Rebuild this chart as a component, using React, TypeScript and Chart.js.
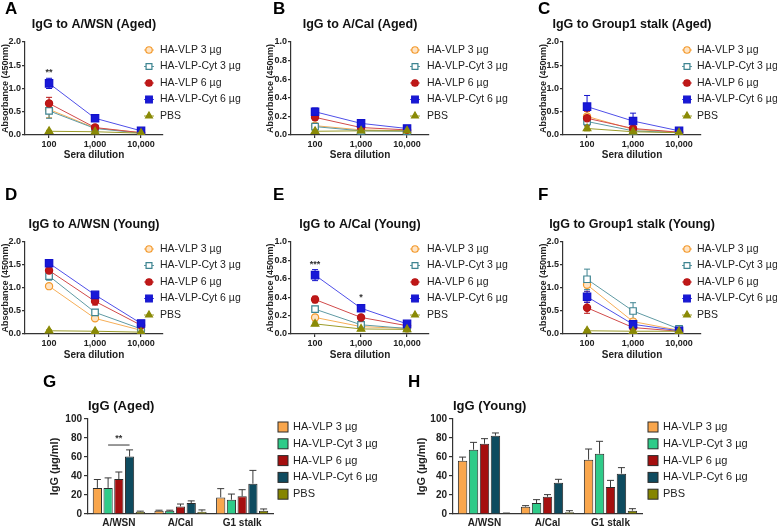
import React, { useEffect, useRef } from 'react';
import { Chart, registerables } from 'chart.js';

Chart.register(...registerables);

const FONT = '"Liberation Sans", Arial, Helvetica, sans-serif';

const seriesNames = ['HA-VLP 3 µg', 'HA-VLP-Cyt 3 µg', 'HA-VLP 6 µg', 'HA-VLP-Cyt 6 µg', 'PBS'];
const dilutions = [100, 1000, 10000];
const dilutionLabels = ['100', '1,000', '10,000'];

// A: IgG to A/WSN (Aged)
const wsnAgedMeans = [
  [0.55, 0.15, 0.05],
  [0.52, 0.14, 0.04],
  [0.68, 0.16, 0.05],
  [1.11, 0.36, 0.09],
  [0.08, 0.07, 0.04],
];
const wsnAgedErrors = [
  [0.18, 0.02, 0.01],
  [0.16, 0.02, 0.01],
  [0.13, 0.03, 0.01],
  [0.11, 0.04, 0.01],
  [0.02, 0.01, 0.01],
];
// B: IgG to A/Cal (Aged)
const calAgedMeans = [
  [0.1, 0.055, 0.045],
  [0.09, 0.045, 0.04],
  [0.19, 0.08, 0.055],
  [0.25, 0.125, 0.07],
  [0.04, 0.045, 0.045],
];
const calAgedErrors = [
  [0.02, 0.01, 0.01],
  [0.02, 0.01, 0.005],
  [0.03, 0.01, 0.01],
  [0.04, 0.02, 0.01],
  [0.01, 0.005, 0.005],
];
// C: IgG to Group1 stalk (Aged)
const stalkAgedMeans = [
  [0.4, 0.12, 0.06],
  [0.29, 0.09, 0.05],
  [0.36, 0.14, 0.06],
  [0.61, 0.3, 0.09],
  [0.14, 0.07, 0.05],
];
const stalkAgedErrors = [
  [0.12, 0.04, 0.01],
  [0.08, 0.03, 0.01],
  [0.15, 0.04, 0.01],
  [0.24, 0.17, 0.02],
  [0.05, 0.02, 0.01],
];
// D: IgG to A/WSN (Young)
const wsnYoungMeans = [
  [1.04, 0.34, 0.08],
  [1.26, 0.47, 0.11],
  [1.38, 0.71, 0.19],
  [1.54, 0.85, 0.23],
  [0.07, 0.06, 0.04],
];
const wsnYoungErrors = [
  [0.05, 0.04, 0.02],
  [0.09, 0.06, 0.02],
  [0.08, 0.08, 0.03],
  [0.04, 0.05, 0.02],
  [0.02, 0.01, 0.01],
];
// E: IgG to A/Cal (Young)
const calYoungMeans = [
  [0.18, 0.08, 0.06],
  [0.27, 0.1, 0.06],
  [0.375, 0.18, 0.09],
  [0.64, 0.28, 0.11],
  [0.11, 0.055, 0.05],
];
const calYoungErrors = [
  [0.03, 0.01, 0.01],
  [0.03, 0.01, 0.01],
  [0.035, 0.01, 0.01],
  [0.06, 0.02, 0.01],
  [0.02, 0.01, 0.005],
];
// F: IgG to Group1 stalk (Young)
const stalkYoungMeans = [
  [1.07, 0.27, 0.08],
  [1.19, 0.5, 0.11],
  [0.57, 0.14, 0.06],
  [0.81, 0.21, 0.07],
  [0.07, 0.06, 0.06],
];
const stalkYoungErrors = [
  [0.15, 0.05, 0.02],
  [0.22, 0.18, 0.03],
  [0.12, 0.03, 0.01],
  [0.12, 0.04, 0.02],
  [0.02, 0.01, 0.01],
];

// G / H: IgG (µg/ml)
const antigenCategories = ['A/WSN', 'A/Cal', 'G1 stalk'];
const igAgedMeans = [
  [27.5, 3.5, 17.5],
  [27.5, 3.5, 15],
  [36.8, 8, 18.6],
  [60.5, 11.5, 31.9],
  [2.5, 2.3, 3.5],
];
const igAgedErrors = [
  [8.8, 0.5, 9.2],
  [10.5, 0.5, 6],
  [7.4, 2.5, 7],
  [7, 2.3, 14],
  [0.5, 2, 1.8],
];
const igYoungMeans = [
  [56, 7.7, 57.2],
  [67.7, 11.6, 63.5],
  [74, 18.2, 28.4],
  [82.5, 33, 42.5],
  [0.7, 1.8, 3.5],
];
const igYoungErrors = [
  [3.9, 1.1, 11.2],
  [7.7, 3.5, 13],
  [5.3, 2.2, 7],
  [2.8, 3.5, 6.3],
  [0.3, 1.7, 2.1],
];

// styles
const lineColors = ['#F6AE57', '#5F9AA3', '#D14A4A', '#4F4FE8', '#9C9C2A'];
const markerEdge = ['#F39A2D', '#3E8491', '#B81414', '#1212CC', '#8A8A06'];
const markerFill = ['#FFE4C4', '#FFFFFF', '#C01818', '#1818D8', '#8A8A06'];
const markerShape = ['circle', 'rect', 'circle', 'rect', 'triangle'];
const markerSize = [3.6, 4.6, 3.6, 5.2, 4.4];
const barColors = ['#F9A64C', '#2FCB89', '#A50F0F', '#0E4B5F', '#858500'];
const AXIS = '#333';
const TEXT = '#222';

type Rect = { left: number; top: number; width: number; height: number };

type LinePanel = {
  letter: string;
  title: string;
  means: number[][];
  errors: number[][];
  yMax: number;
  yStep: number;
  rect: Rect;
  yAxisWidth: number;
  padRight: number;
  padTop: number;
  xAxisHeight: number;
  titleY: number;
  letterPos: [number, number];
  legend: { markerX: number; textX: number; y: number; step: number };
  sig?: { x: number; y: number; text: string }[];
};

const row1 = { top: 0, height: 161, xAxisHeight: 26, padTop: 42, titleY: 25, letterY: 9, legendY: 50 };
const row2 = { top: 175, height: 186, xAxisHeight: 27, padTop: 67, titleY: 50, letterY: 20, legendY: 74 };

function mkLine(
  letter: string, title: string, means: number[][], errors: number[][], yMax: number, yStep: number,
  col: number, row: typeof row1, sig?: { x: number; y: number; text: string }[]
): LinePanel {
  const cols = [
    { left: 0, width: 260, yAxisWidth: 25, padRight: 97, letterX: 5, markerX: 149, textX: 160 },
    { left: 265, width: 270, yAxisWidth: 26, padRight: 106, letterX: 8, markerX: 150, textX: 162 },
    { left: 538, width: 239, yAxisWidth: 25, padRight: 76, letterX: 0, markerX: 149, textX: 159 },
  ][col];
  return {
    letter, title, means, errors, yMax, yStep,
    rect: { left: cols.left, top: row.top, width: cols.width, height: row.height },
    yAxisWidth: cols.yAxisWidth,
    padRight: cols.padRight,
    padTop: row.padTop,
    xAxisHeight: row.xAxisHeight,
    titleY: row.titleY,
    letterPos: [cols.letterX, row.letterY],
    legend: { markerX: cols.markerX, textX: cols.textX, y: row.legendY, step: 16.5 },
    sig,
  };
}

const linePanels: LinePanel[] = [
  mkLine('A', 'IgG to A/WSN (Aged)', wsnAgedMeans, wsnAgedErrors, 2, 0.5, 0, row1, [{ x: 100, y: 1.34, text: '**' }]),
  mkLine('B', 'IgG to A/Cal (Aged)', calAgedMeans, calAgedErrors, 1, 0.2, 1, row1),
  mkLine('C', 'IgG to Group1 stalk (Aged)', stalkAgedMeans, stalkAgedErrors, 2, 0.5, 2, row1),
  mkLine('D', 'IgG to A/WSN (Young)', wsnYoungMeans, wsnYoungErrors, 2, 0.5, 0, row2),
  mkLine('E', 'IgG to A/Cal (Young)', calYoungMeans, calYoungErrors, 1, 0.2, 1, row2, [
    { x: 100, y: 0.76, text: '***' },
    { x: 1000, y: 0.4, text: '*' },
  ]),
  mkLine('F', 'IgG to Group1 stalk (Young)', stalkYoungMeans, stalkYoungErrors, 2, 0.5, 2, row2),
];

type BarPanel = {
  letter: string;
  title: string;
  means: number[][];
  errors: number[][];
  rect: Rect;
  padLeft: number;
  yAxisWidth: number;
  padRight: number;
  letterPos: [number, number];
  legend: { boxX: number; textX: number; y: number; step: number };
  bracket?: { cat: number; from: number; to: number; y: number; text: string };
};

const barPanels: BarPanel[] = [
  {
    letter: 'G', title: 'IgG (Aged)', means: igAgedMeans, errors: igAgedErrors,
    rect: { left: 40, top: 370, width: 348, height: 159 },
    padLeft: 8, yAxisWidth: 40, padRight: 115,
    letterPos: [3, 12],
    legend: { boxX: 243, textX: 253, y: 57, step: 16.8 },
    bracket: { cat: 0, from: 1, to: 3, y: 72.6, text: '**' },
  },
  {
    letter: 'H', title: 'IgG (Young)', means: igYoungMeans, errors: igYoungErrors,
    rect: { left: 400, top: 370, width: 377, height: 159 },
    padLeft: 15, yAxisWidth: 38, padRight: 135,
    letterPos: [8, 12],
    legend: { boxX: 253, textX: 263, y: 57, step: 16.8 },
  },
];

function drawMarker(ctx: CanvasRenderingContext2D, shape: string, x: number, y: number, r: number, fill: string, stroke: string, lw: number) {
  ctx.save();
  ctx.beginPath();
  if (shape === 'circle') {
    ctx.arc(x, y, r, 0, Math.PI * 2);
  } else if (shape === 'rect') {
    const s = r * Math.SQRT1_2;
    ctx.rect(x - s, y - s, 2 * s, 2 * s);
  } else {
    const a = (2 * Math.PI) / 3;
    ctx.moveTo(x, y - r);
    ctx.lineTo(x + Math.sin(a) * r, y - Math.cos(a) * r);
    ctx.lineTo(x + Math.sin(2 * a) * r, y - Math.cos(2 * a) * r);
    ctx.closePath();
  }
  ctx.fillStyle = fill;
  ctx.fill();
  ctx.lineWidth = lw;
  ctx.strokeStyle = stroke;
  ctx.stroke();
  ctx.restore();
}

function drawLetter(ctx: CanvasRenderingContext2D, letter: string, pos: [number, number]) {
  ctx.save();
  ctx.font = `bold 17px ${FONT}`;
  ctx.fillStyle = '#000';
  ctx.textAlign = 'left';
  ctx.textBaseline = 'middle';
  ctx.fillText(letter, pos[0], pos[1]);
  ctx.restore();
}

function drawTitle(ctx: CanvasRenderingContext2D, text: string, x: number, y: number, size: number, align: CanvasTextAlign) {
  ctx.save();
  ctx.font = `bold ${size}px ${FONT}`;
  ctx.fillStyle = '#111';
  ctx.textAlign = align;
  ctx.textBaseline = 'middle';
  ctx.fillText(text, x, y);
  ctx.restore();
}

function lineExtras(p: LinePanel) {
  return {
    id: 'lineExtras',
    beforeDatasetsDraw(chart: any) {
      const ctx: CanvasRenderingContext2D = chart.ctx;
      const xs = chart.scales.x;
      const ys = chart.scales.y;
      ctx.save();
      ctx.lineWidth = 1;
      p.means.forEach((row, i) => {
        ctx.strokeStyle = markerEdge[i];
        row.forEach((m, j) => {
          const e = p.errors[i][j];
          const x = xs.getPixelForValue(dilutions[j]);
          const y1 = ys.getPixelForValue(m + e);
          const y2 = ys.getPixelForValue(Math.max(0, m - e));
          ctx.beginPath();
          ctx.moveTo(x, y1);
          ctx.lineTo(x, y2);
          ctx.moveTo(x - 3, y1);
          ctx.lineTo(x + 3, y1);
          ctx.moveTo(x - 3, y2);
          ctx.lineTo(x + 3, y2);
          ctx.stroke();
        });
      });
      ctx.restore();
    },
    afterDraw(chart: any) {
      const ctx: CanvasRenderingContext2D = chart.ctx;
      const area = chart.chartArea;
      drawLetter(ctx, p.letter, p.letterPos);
      drawTitle(ctx, p.title, (area.left + area.right) / 2, p.titleY, 12.5, 'center');
      // legend
      ctx.save();
      ctx.font = `10.5px ${FONT}`;
      ctx.fillStyle = TEXT;
      ctx.textAlign = 'left';
      ctx.textBaseline = 'middle';
      seriesNames.forEach((name, i) => {
        const y = p.legend.y + i * p.legend.step;
        const mx = p.legend.markerX;
        ctx.strokeStyle = lineColors[i];
        ctx.lineWidth = 1;
        ctx.beginPath();
        ctx.moveTo(mx - 5, y);
        ctx.lineTo(mx + 5, y);
        ctx.stroke();
        drawMarker(ctx, markerShape[i], mx, y, markerSize[i] * 0.9, markerFill[i], markerEdge[i], 1.2);
        ctx.fillStyle = TEXT;
        ctx.fillText(name, p.legend.textX, y);
      });
      ctx.restore();
      // significance marks
      if (p.sig) {
        const xs = chart.scales.x;
        const ys = chart.scales.y;
        ctx.save();
        ctx.font = `bold 9px ${FONT}`;
        ctx.fillStyle = '#333';
        ctx.textAlign = 'center';
        ctx.textBaseline = 'middle';
        p.sig.forEach((s) => ctx.fillText(s.text, xs.getPixelForValue(s.x), ys.getPixelForValue(s.y)));
        ctx.restore();
      }
    },
  };
}

function lineConfig(p: LinePanel): any {
  const tickFont = { family: FONT, size: 9, weight: 'bold' as const };
  return {
    type: 'line',
    data: {
      datasets: seriesNames.map((name, i) => ({
        label: name,
        data: dilutions.map((d, j) => ({ x: d, y: p.means[i][j] })),
        borderColor: lineColors[i],
        borderWidth: 1,
        pointStyle: markerShape[i],
        pointRadius: markerSize[i],
        pointBorderColor: markerEdge[i],
        pointBackgroundColor: markerFill[i],
        pointBorderWidth: 1.2,
        fill: false,
        tension: 0,
        order: 4 - i,
      })),
    },
    options: {
      responsive: false,
      animation: false,
      events: [],
      layout: { padding: { left: 0, right: p.padRight, top: p.padTop, bottom: 0 } },
      plugins: {
        legend: { display: false },
        tooltip: { enabled: false },
        title: { display: false },
      },
      scales: {
        x: {
          type: 'logarithmic',
          min: 30,
          max: 30000,
          afterBuildTicks: (s: any) => {
            s.ticks = dilutions.map((v) => ({ value: v }));
          },
          afterFit: (s: any) => {
            s.height = p.xAxisHeight;
          },
          ticks: {
            callback: (v: any) => {
              const k = dilutions.indexOf(Number(v));
              return k >= 0 ? dilutionLabels[k] : '';
            },
            font: tickFont,
            color: TEXT,
            padding: 1,
            maxRotation: 0,
            autoSkip: false,
          },
          grid: { drawOnChartArea: false, drawTicks: true, tickLength: 3, color: AXIS, lineWidth: 1.2 },
          border: { color: AXIS, width: 1.2 },
          title: {
            display: true,
            text: 'Sera dilution',
            color: TEXT,
            font: { family: FONT, size: 10, weight: 'bold' },
            padding: 0,
          },
        },
        y: {
          type: 'linear',
          min: 0,
          max: p.yMax,
          afterFit: (s: any) => {
            s.width = p.yAxisWidth;
          },
          ticks: {
            stepSize: p.yStep,
            callback: (v: any) => Number(v).toFixed(1),
            font: tickFont,
            color: TEXT,
            padding: 1,
          },
          grid: { drawOnChartArea: false, drawTicks: true, tickLength: 3, color: AXIS, lineWidth: 1.2 },
          border: { color: AXIS, width: 1.2 },
          title: {
            display: true,
            text: 'Absorbance (450nm)',
            color: TEXT,
            font: { family: FONT, size: 9, weight: 'bold' },
            padding: 0,
          },
        },
      },
    },
    plugins: [lineExtras(p)],
  };
}

function barExtras(p: BarPanel) {
  return {
    id: 'barExtras',
    afterDatasetsDraw(chart: any) {
      const ctx: CanvasRenderingContext2D = chart.ctx;
      const ys = chart.scales.y;
      ctx.save();
      ctx.strokeStyle = '#3a3a3a';
      ctx.lineWidth = 1;
      p.means.forEach((row, i) => {
        const meta = chart.getDatasetMeta(i);
        row.forEach((m, j) => {
          const x = meta.data[j].x;
          const y0 = ys.getPixelForValue(m);
          const y1 = ys.getPixelForValue(m + p.errors[i][j]);
          ctx.beginPath();
          ctx.moveTo(x, y0);
          ctx.lineTo(x, y1);
          ctx.moveTo(x - 3.5, y1);
          ctx.lineTo(x + 3.5, y1);
          ctx.stroke();
        });
      });
      if (p.bracket) {
        const b = p.bracket;
        const x1 = chart.getDatasetMeta(b.from).data[b.cat].x;
        const x2 = chart.getDatasetMeta(b.to).data[b.cat].x;
        const y = ys.getPixelForValue(b.y);
        ctx.strokeStyle = '#333';
        ctx.beginPath();
        ctx.moveTo(x1, y);
        ctx.lineTo(x2, y);
        ctx.stroke();
        ctx.font = `bold 9px ${FONT}`;
        ctx.fillStyle = '#333';
        ctx.textAlign = 'center';
        ctx.textBaseline = 'bottom';
        ctx.fillText(b.text, (x1 + x2) / 2, y - 2);
      }
      ctx.restore();
    },
    afterDraw(chart: any) {
      const ctx: CanvasRenderingContext2D = chart.ctx;
      drawLetter(ctx, p.letter, p.letterPos);
      drawTitle(ctx, p.title, chart.chartArea.left, 36, 13, 'left');
      ctx.save();
      ctx.font = `11px ${FONT}`;
      ctx.textAlign = 'left';
      ctx.textBaseline = 'middle';
      seriesNames.forEach((name, i) => {
        const y = p.legend.y + i * p.legend.step;
        ctx.fillStyle = barColors[i];
        ctx.fillRect(p.legend.boxX - 5, y - 5, 10, 10);
        ctx.strokeStyle = '#2b2b2b';
        ctx.lineWidth = 1;
        ctx.strokeRect(p.legend.boxX - 5, y - 5, 10, 10);
        ctx.fillStyle = TEXT;
        ctx.fillText(name, p.legend.textX, y);
      });
      ctx.restore();
    },
  };
}

function barConfig(p: BarPanel): any {
  const tickFont = { family: FONT, size: 10, weight: 'bold' as const };
  return {
    type: 'bar',
    data: {
      labels: antigenCategories,
      datasets: seriesNames.map((name, i) => ({
        label: name,
        data: p.means[i],
        backgroundColor: barColors[i],
        borderColor: '#2b2b2b',
        borderWidth: 1,
        categoryPercentage: 0.87,
        barPercentage: 0.86,
      })),
    },
    options: {
      responsive: false,
      animation: false,
      events: [],
      layout: { padding: { left: p.padLeft, right: p.padRight, top: 49, bottom: 0 } },
      plugins: {
        legend: { display: false },
        tooltip: { enabled: false },
        title: { display: false },
      },
      scales: {
        x: {
          type: 'category',
          offset: true,
          afterFit: (s: any) => {
            s.height = 15;
          },
          ticks: { font: tickFont, color: TEXT, padding: 3, maxRotation: 0, autoSkip: false },
          grid: { drawOnChartArea: false, drawTicks: false, color: AXIS },
          border: { color: AXIS, width: 1.2 },
        },
        y: {
          type: 'linear',
          min: 0,
          max: 100,
          afterFit: (s: any) => {
            s.width = p.yAxisWidth;
          },
          ticks: { stepSize: 20, font: tickFont, color: TEXT, padding: 2 },
          grid: { drawOnChartArea: false, drawTicks: true, tickLength: 4, color: AXIS, lineWidth: 1.2 },
          border: { color: AXIS, width: 1.2 },
          title: {
            display: true,
            text: 'IgG (µg/ml)',
            color: TEXT,
            font: { family: FONT, size: 11, weight: 'bold' },
            padding: 0,
          },
        },
      },
    },
    plugins: [barExtras(p)],
  };
}

function ChartCanvas({ rect, build }: { rect: Rect; build: () => any }) {
  const ref = useRef<HTMLCanvasElement | null>(null);
  useEffect(() => {
    const chart = new Chart(ref.current as HTMLCanvasElement, build());
    return () => chart.destroy();
  }, []);
  return (
    <canvas
      ref={ref}
      width={rect.width}
      height={rect.height}
      style={{ position: 'absolute', left: rect.left, top: rect.top, width: rect.width, height: rect.height }}
    />
  );
}

export default function App() {
  return (
    <div style={{ position: 'absolute', left: 0, top: 0, width: 777, height: 529, background: '#fff', overflow: 'hidden' }}>
      {linePanels.map((p) => (
        <ChartCanvas key={p.letter} rect={p.rect} build={() => lineConfig(p)} />
      ))}
      {barPanels.map((p) => (
        <ChartCanvas key={p.letter} rect={p.rect} build={() => barConfig(p)} />
      ))}
    </div>
  );
}
